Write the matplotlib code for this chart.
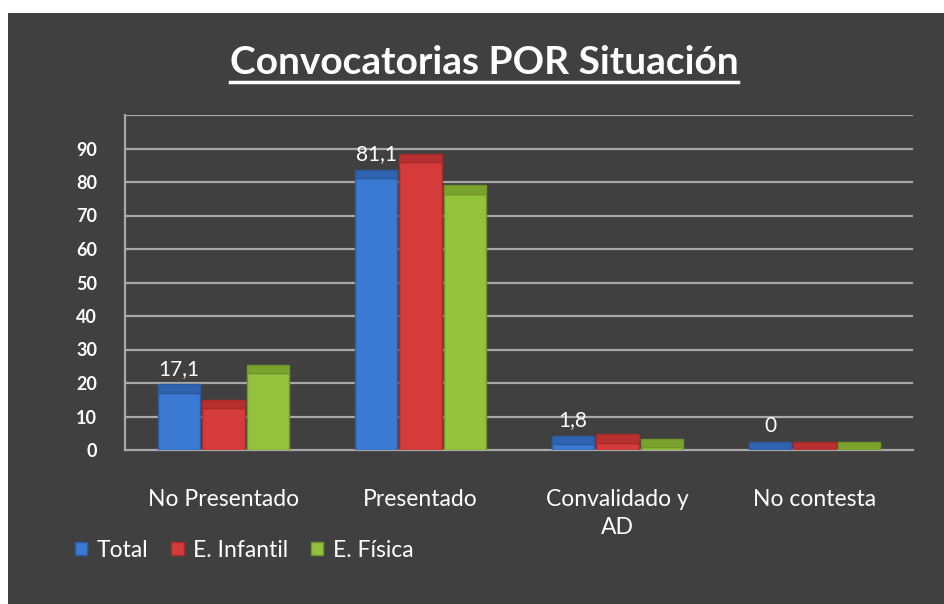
import matplotlib
matplotlib.use("Agg")
import matplotlib.pyplot as plt
from matplotlib.patches import Rectangle
from matplotlib.lines import Line2D
import numpy as np

categories = ["No Presentado", "Presentado", "Convalidado y\nAD", "No contesta"]
series_names = ["Total", "E. Infantil", "E. Física"]
total = [17.1, 81.1, 1.8, 0]
infantil = [12.5, 86.0, 2.2, 0]
fisica = [23.0, 76.5, 0.9, 0]
total_labels = ["17,1", "81,1", "1,8", "0"]
yticks = [0, 10, 20, 30, 40, 50, 60, 70, 80, 90]

colors = ["#3b7ad2", "#d63b3b", "#94c23c"]
cap_colors = ["#2f63b0", "#b83030", "#7aa32e"]
edge = ["#2a5aa0", "#a82a2a", "#6f9528"]

plt.rcParams['font.family'] = ['Lato', 'DejaVu Sans']

W, H = 944, 604
fig = plt.figure(figsize=(W / 100, H / 100), dpi=100, facecolor="white")
bg = "#404040"
fig.patches.append(Rectangle((8 / W, 0), 1 - 8 / W, (H - 13) / H, transform=fig.transFigure,
                             facecolor=bg, edgecolor="none", zorder=-10))

ax_left, ax_right = 125, 913
ax_bottom, ax_top = 450, 115
ax = fig.add_axes([ax_left / W, (H - ax_bottom) / H, (ax_right - ax_left) / W, (ax_bottom - ax_top) / H])
ax.set_facecolor("none")

x = np.arange(len(categories))
bw = 0.225
cap = 2.5
data = [total, infantil, fisica]
for i, vals in enumerate(data):
    xs = x + (i - 1) * bw
    ax.bar(xs, vals, width=bw * 0.96, color=colors[i], edgecolor=edge[i],
           linewidth=1.0, zorder=3, label=series_names[i])
    # pseudo-3D top face
    ax.bar(xs, [cap] * len(vals), bottom=vals, width=bw * 0.96, color=cap_colors[i],
           edgecolor=edge[i], linewidth=1.0, zorder=3)

for xi, v, lab in zip(x, total, total_labels):
    ax.annotate(lab, (xi - bw, v + cap), xytext=(0, 4), textcoords="offset points",
                ha="center", va="bottom", color="white", fontsize=15, zorder=5)

ax.set_xlim(-0.5, 3.5)
ax.set_ylim(0, 100)
ax.set_yticks(yticks)
for yv in range(10, 101, 10):
    ax.axhline(yv, color="#a8a8a8", linewidth=1.6, zorder=1)
ax.tick_params(axis="y", length=0, pad=20, labelcolor="white", labelsize=13)
for t in ax.get_yticklabels():
    t.set_fontweight("bold")
ax.set_xticks(x)
ax.set_xticklabels(categories, color="white", fontsize=16.5, linespacing=1.4)
ax.tick_params(axis="x", length=0, pad=28)
for s in ["top", "right"]:
    ax.spines[s].set_visible(False)
ax.spines["left"].set_color("#a8a8a8")
ax.spines["left"].set_linewidth(1.6)
ax.spines["bottom"].set_color("#a8a8a8")
ax.spines["bottom"].set_linewidth(1.6)

leg = fig.legend(loc="upper left", bbox_to_anchor=(54 / W, (H - 519) / H), ncol=3, frameon=False,
                 fontsize=16.5, handlelength=0.55, handleheight=0.55, handletextpad=0.4,
                 columnspacing=1.0, labelcolor="white")

title = fig.text(484 / W, (H - 62) / H, "Convocatorias POR Situación", ha="center", va="center",
                 color="white", fontsize=28, fontweight="bold")
fig.canvas.draw()
bb = title.get_window_extent(fig.canvas.get_renderer())
uy = bb.y0 - 2
fig.lines.append(Line2D([bb.x0, bb.x1], [uy, uy], transform=None, color="white", linewidth=2.5))

fig.savefig("out.png", dpi=100, facecolor="white")
